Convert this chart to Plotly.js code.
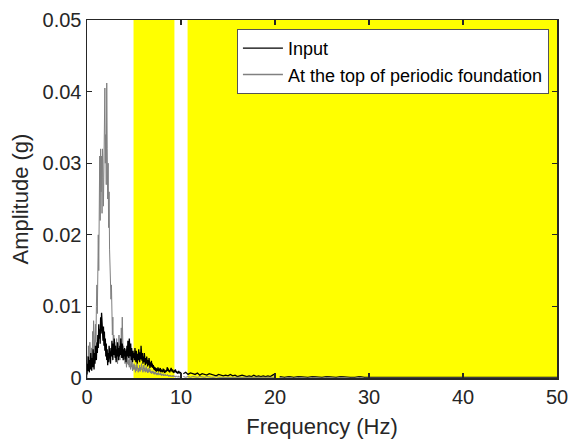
<!DOCTYPE html>
<html>
<head>
<meta charset="utf-8">
<script src="https://cdn.plot.ly/plotly-3.0.1.min.js"></script>
<style>html,body{margin:0;padding:0;background:#fff;}#chart{width:573px;height:443px;}</style>
</head>
<body>
<div id="chart"></div>
<script>
// Frequency resolution of each segment (Hz) and start frequency
var seg1Start = 0, seg1Step = 0.05;      // 0 – 10 Hz
var seg2Start = 10.25, seg2Step = 0.25;  // 10.25 – 20 Hz
var seg3Start = 20.5, seg3Step = 0.5;    // 20.5 – 50 Hz

var seriesNames = ["Input", "At the top of periodic foundation"];

// Input amplitude (g)
var inputLow = [
0.0005,0.0020,0.0010,0.0030,0.0015,0.0008,0.0025,0.0012,0.0035,0.0018,
0.0010,0.0028,0.0015,0.0040,0.0022,0.0012,0.0035,0.0020,0.0045,0.0030,
0.0025,0.0050,0.0035,0.0060,0.0042,0.0075,0.0055,0.0068,0.0048,0.0085,
0.0062,0.0091,0.0070,0.0080,0.0052,0.0072,0.0045,0.0065,0.0038,0.0055,
0.0030,0.0048,0.0025,0.0040,0.0018,0.0035,0.0022,0.0045,0.0028,0.0038,
0.0020,0.0042,0.0030,0.0052,0.0035,0.0025,0.0048,0.0032,0.0055,0.0038,
0.0028,0.0045,0.0022,0.0040,0.0030,0.0050,0.0035,0.0025,0.0042,0.0030,
0.0045,0.0032,0.0055,0.0038,0.0028,0.0048,0.0034,0.0025,0.0040,0.0030,
0.0042,0.0026,0.0038,0.0022,0.0035,0.0045,0.0030,0.0052,0.0036,0.0028,
0.0055,0.0040,0.0030,0.0048,0.0025,0.0042,0.0032,0.0022,0.0038,0.0028,
0.0035,0.0025,0.0042,0.0030,0.0022,0.0038,0.0028,0.0020,0.0034,0.0025,
0.0040,0.0030,0.0022,0.0036,0.0026,0.0045,0.0032,0.0024,0.0035,0.0020,
0.0030,0.0022,0.0035,0.0025,0.0018,0.0028,0.0020,0.0030,0.0022,0.0016,
0.0025,0.0018,0.0028,0.0020,0.0014,0.0022,0.0016,0.0024,0.0015,0.0020,
0.0014,0.0018,0.0012,0.0016,0.0011,0.0015,0.0010,0.0014,0.0009,0.0013,
0.0010,0.0015,0.0011,0.0009,0.0013,0.0010,0.0014,0.0008,0.0012,0.0009,
0.0011,0.0008,0.0013,0.0009,0.0012,0.0007,0.0010,0.0008,0.0011,0.0009,
0.0012,0.0015,0.0010,0.0013,0.0009,0.0011,0.0008,0.0012,0.0010,0.0014,
0.0011,0.0009,0.0012,0.0008,0.0010,0.0007,0.0011,0.0009,0.0012,0.0008,
0.0010,0.0007,0.0009,0.0006,0.0008,0.0010,0.0007,0.0009,0.0006,0.0008,
0.0007];
var inputMid = [
0.0006,0.0008,0.0005,0.0007,0.0006,0.0005,0.0007,0.0004,0.0006,0.0005,
0.0004,0.0006,0.0005,0.0004,0.0003,0.0005,0.0004,0.0003,0.0004,0.0003,
0.0005,0.0003,0.0004,0.0002,0.0003,0.0004,0.0003,0.0002,0.0003,0.0002,
0.0004,0.0002,0.0003,0.0002,0.0003,0.0002,0.0003,0.0002,0.0004,0.0006];
var inputHigh = [
0.0002,0.0001,0.0002,0.0001,0.0002,0.0001,0.0001,0.0002,0.0001,0.0001,
0.0002,0.0001,0.0001,0.0002,0.0001,0.0001,0.0001,0.0002,0.0001,0.0001,
0.0001,0.0001,0.0002,0.0001,0.0001,0.0001,0.0001,0.0001,0.0002,0.0001,
0.0001,0.0001,0.0001,0.0001,0.0001,0.0002,0.0001,0.0001,0.0001,0.0001,
0.0001,0.0001,0.0001,0.0001,0.0001,0.0001,0.0001,0.0001,0.0001,0.0001,
0.0001,0.0001,0.0001,0.0001,0.0001,0.0001,0.0001,0.0001,0.0001,0.0001];

// Response at the top of the periodic foundation (g)
var topLow = [
0.0000,0.0030,0.0010,0.0045,0.0020,0.0008,0.0050,0.0025,0.0038,0.0012,
0.0042,0.0020,0.0065,0.0035,0.0080,0.0045,0.0060,0.0030,0.0075,0.0050,
0.0100,0.0130,0.0090,0.0160,0.0200,0.0150,0.0240,0.0310,0.0220,0.0320,
0.0260,0.0310,0.0230,0.0320,0.0280,0.0240,0.0330,0.0290,0.0405,0.0300,
0.0340,0.0270,0.0412,0.0320,0.0250,0.0300,0.0210,0.0260,0.0180,0.0150,
0.0160,0.0110,0.0130,0.0080,0.0060,0.0085,0.0045,0.0060,0.0035,0.0050,
0.0030,0.0045,0.0025,0.0055,0.0035,0.0020,0.0048,0.0030,0.0060,0.0040,
0.0025,0.0055,0.0035,0.0070,0.0045,0.0085,0.0050,0.0030,0.0045,0.0025,
0.0035,0.0020,0.0040,0.0025,0.0015,0.0030,0.0020,0.0035,0.0018,0.0025,
0.0015,0.0030,0.0020,0.0012,0.0025,0.0015,0.0022,0.0010,0.0018,0.0012,
0.0020,0.0012,0.0018,0.0008,0.0015,0.0010,0.0020,0.0012,0.0016,0.0008,
0.0014,0.0010,0.0018,0.0009,0.0015,0.0011,0.0020,0.0012,0.0016,0.0008,
0.0012,0.0018,0.0010,0.0014,0.0008,0.0012,0.0016,0.0009,0.0013,0.0007,
0.0011,0.0008,0.0014,0.0009,0.0012,0.0007,0.0010,0.0006,0.0009,0.0007,
0.0010,0.0006,0.0009,0.0005,0.0008,0.0006,0.0009,0.0005,0.0007,0.0004,
0.0007,0.0005,0.0008,0.0004,0.0006,0.0005,0.0007,0.0004,0.0006,0.0003,
0.0005,0.0004,0.0006,0.0003,0.0005,0.0004,0.0003,0.0005,0.0003,0.0004,
0.0003,0.0005,0.0003,0.0004,0.0002,0.0004,0.0003,0.0002,0.0004,0.0003,
0.0002,0.0003,0.0002,0.0004,0.0002,0.0003,0.0002,0.0003,0.0001,0.0002,
0.0003,0.0002,0.0001,0.0002,0.0003,0.0001,0.0002,0.0001,0.0002,0.0001,
0.0002];
var topMid = [
0.0002,0.0001,0.0002,0.0001,0.0002,0.0001,0.0001,0.0002,0.0001,0.0001,
0.0002,0.0001,0.0001,0.0001,0.0002,0.0001,0.0001,0.0001,0.0001,0.0002,
0.0001,0.0001,0.0001,0.0001,0.0001,0.0002,0.0001,0.0001,0.0001,0.0001,
0.0001,0.0001,0.0001,0.0001,0.0001,0.0001,0.0001,0.0001,0.0001,0.0001];
var topHigh = [
0.0001,0.0000,0.0001,0.0000,0.0001,0.0000,0.0000,0.0001,0.0000,0.0000,
0.0001,0.0000,0.0000,0.0001,0.0000,0.0000,0.0000,0.0001,0.0000,0.0000,
0.0000,0.0000,0.0001,0.0000,0.0000,0.0000,0.0000,0.0000,0.0001,0.0000,
0.0000,0.0000,0.0000,0.0000,0.0000,0.0001,0.0000,0.0000,0.0000,0.0000,
0.0000,0.0000,0.0000,0.0000,0.0000,0.0000,0.0000,0.0000,0.0000,0.0000,
0.0000,0.0000,0.0000,0.0000,0.0000,0.0000,0.0000,0.0000,0.0000,0.0000];

// Yellow highlighted frequency bands (Hz)
var bandStart = [4.95, 10.7];
var bandEnd   = [9.3, 50];

var yTickVals = [0, 0.01, 0.02, 0.03, 0.04, 0.05];
var yTickText = ["0", "0.01", "0.02", "0.03", "0.04", "0.05"];
var xTickVals = [0, 10, 20, 30, 40, 50];

function seg(y, x0, dx, color, width, name, show) {
  return {type: "scatter", mode: "lines", y: y, x0: x0, dx: dx,
    line: {color: color, width: width}, name: name, showlegend: show,
    legendgroup: name, hoverinfo: "skip"};
}

var blackC = "#000000", grayC = "#808080";
var traces = [
  seg(topLow, seg1Start, seg1Step, grayC, 1, seriesNames[1], false),
  seg(inputLow, seg1Start, seg1Step, blackC, 1.3, seriesNames[0], true),
  seg(inputMid, seg2Start, seg2Step, blackC, 1.3, seriesNames[0], false),
  seg(inputHigh, seg3Start, seg3Step, blackC, 1.3, seriesNames[0], false),
  seg(topMid, seg2Start, seg2Step, grayC, 1, seriesNames[1], false),
  seg(topHigh, seg3Start, seg3Step, grayC, 1, seriesNames[1], false),
  // legend entry for the grey series (drawn after input in the legend)
  seg([null], 0, 1, grayC, 1.5, seriesNames[1], true)
];

var shapes = bandStart.map(function (s, i) {
  return {type: "rect", xref: "x", yref: "paper", x0: s, x1: bandEnd[i], y0: 0, y1: 1,
    fillcolor: "#ffff00", line: {width: 0}, layer: "below"};
});

var FONT = "Liberation Sans, Arial, sans-serif";
var axisCommon = {
  showgrid: false, zeroline: false, showline: true, linecolor: "#262626", linewidth: 1.5,
  mirror: "ticks", ticks: "inside", ticklen: 5, tickwidth: 1.2, tickcolor: "#262626",
  tickfont: {family: FONT, size: 20, color: "#262626"}
};

var layout = {
  width: 573, height: 443,
  margin: {l: 87, r: 16, t: 20, b: 65},
  paper_bgcolor: "#ffffff", plot_bgcolor: "#ffffff",
  font: {family: FONT, color: "#262626"},
  xaxis: Object.assign({}, axisCommon, {
    range: [0, 50], tickvals: xTickVals,
    title: {text: "Frequency (Hz)", font: {size: 22, color: "#262626"}, standoff: 12}
  }),
  yaxis: Object.assign({}, axisCommon, {
    range: [0, 0.05], tickvals: yTickVals, ticktext: yTickText,
    title: {text: "Amplitude (g)", font: {size: 22, color: "#262626"}, standoff: 8}
  }),
  shapes: shapes,
  showlegend: true,
  legend: {
    x: 0.319, y: 0.975, xanchor: "left", yanchor: "top",
    bgcolor: "#ffffff", bordercolor: "#555555", borderwidth: 1,
    font: {family: FONT, size: 18, color: "#000000"},
    itemwidth: 40, tracegroupgap: 0
  }
};

Plotly.newPlot("chart", traces, layout, {displayModeBar: false, staticPlot: true});
</script>
</body>
</html>
